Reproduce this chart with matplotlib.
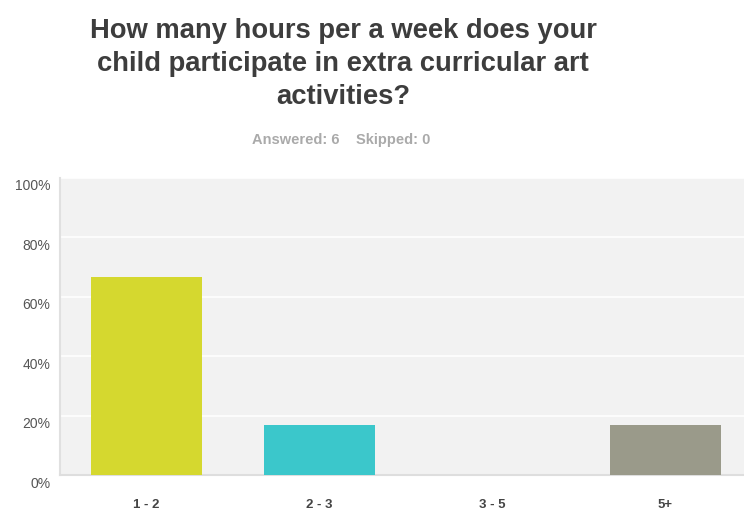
import matplotlib
matplotlib.use("Agg")
import matplotlib.pyplot as plt
import matplotlib.transforms as mtransforms

# survey answers
categories = ["1 - 2", "2 - 3", "3 - 5", "5+"]
percent = [66.67, 16.67, 0.0, 16.67]
bar_colors = ["#d5d82f", "#3bc7cb", "#3bc7cb", "#9a9a8a"]
yticks = [0, 20, 40, 60, 80, 100]

plt.rcParams['font.family'] = ['Liberation Sans', 'DejaVu Sans']

fig = plt.figure(figsize=(7.44, 5.11), dpi=100)
ax = fig.add_axes([60 / 744, 36 / 511, 684 / 744, 297 / 511])
ax.set_facecolor("#f2f2f2")

x = list(range(len(categories)))
ax.bar(x, percent, width=0.642, color=bar_colors, zorder=3)

ax.set_xlim(-0.5, 3.454)
ax.set_ylim(0, 100)
ax.set_yticks(yticks)
ax.set_yticklabels([f"{t}%" for t in yticks], fontsize=10, color="#555555")
ax.set_xticks(x)
ax.set_xticklabels(categories, fontsize=9.5, fontweight="bold", color="#444444")
ax.tick_params(axis="both", length=0)
ax.tick_params(axis="x", pad=17)
ax.tick_params(axis="y", pad=7)

# y labels sit a bit below their gridlines
shift = mtransforms.ScaledTranslation(0, -7 / 100, fig.dpi_scale_trans)
for lab in ax.get_yticklabels():
    lab.set_transform(lab.get_transform() + shift)

ax.grid(axis="y", color="white", linewidth=1.2, zorder=1)
for side in ["top", "right"]:
    ax.spines[side].set_visible(False)
ax.spines["left"].set_color("#e0e0e0")
ax.spines["left"].set_linewidth(1.5)
ax.spines["bottom"].set_color("#dedede")
ax.spines["bottom"].set_linewidth(1.5)

fig.text(343 / 744, 1 - 64 / 511,
         "How many hours per a week does your\nchild participate in extra curricular art\nactivities?",
         ha="center", va="center", fontsize=19.7, fontweight="bold", color="#3d3d3d",
         linespacing=1.33)
fig.text(341 / 744, 1 - 140 / 511, "Answered: 6    Skipped: 0",
         ha="center", va="center", fontsize=10.5, fontweight="bold", color="#aaaaaa")

fig.savefig("out.png", dpi=100)
